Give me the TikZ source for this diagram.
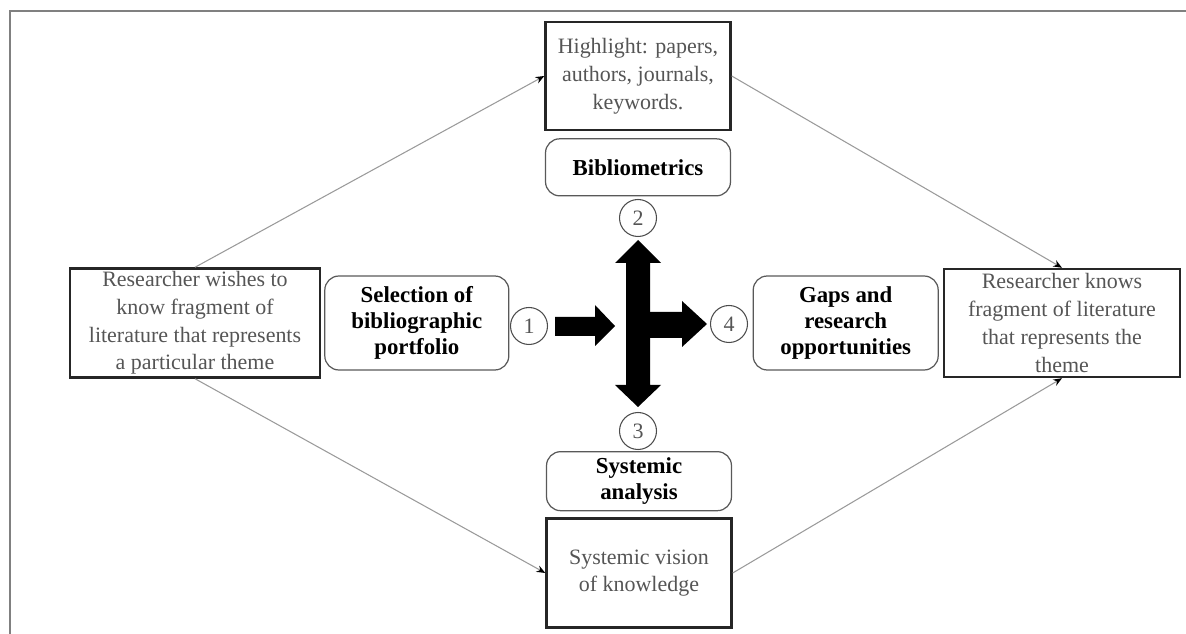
\documentclass[tikz,border=0pt]{standalone}
\usepackage{fontspec}
\setmainfont{Liberation Serif}
\usetikzlibrary{positioning,arrows.meta}
\definecolor{txtgray}{HTML}{555555}
\definecolor{linegray}{HTML}{9A9A9A}

\tikzset{
  plainbox/.style={draw=black!85, line width=1.4pt, align=center, text=txtgray,
    font=\fontsize{12.5}{15.8}\selectfont, inner sep=1pt},
  roundbox/.style={draw=black!65, line width=0.7pt, rounded corners=8pt, align=center,
    font=\fontsize{13}{14.8}\selectfont\bfseries, minimum width=3.7cm, inner sep=1pt},
  numcircle/.style={draw=black!70, line width=0.6pt, circle, minimum size=0.74cm,
    inner sep=0pt, text=txtgray, font=\fontsize{12.5}{14}\selectfont},
  link/.style={draw=linegray, line width=0.6pt, -{Stealth[length=5pt,width=4pt,black]}}
}

\begin{document}
\begin{tikzpicture}[x=0.02cm,y=-0.02cm]
  \useasboundingbox (0,0) rectangle (1186,634);
  \draw[gray, line width=1.2pt] (10,634) -- (10,11) -- (1186,11);

  \node[numcircle] (c1) at (529,326) {1};
  \node[numcircle] (c2) at (638,218) {2};
  \node[numcircle] (c3) at (638,431) {3};
  \node[numcircle] (c4) at (729,324) {4};

  \node[plainbox, minimum width=5cm, minimum height=2.18cm] (wish) at (195,323)
    {Researcher wishes to\\ know fragment of\\ literature that represents\\ a particular theme};
  \node[roundbox, right=0.06cm of wish, minimum width=3.68cm, minimum height=1.88cm] (sel)
    {Selection of\\ bibliographic\\ portfolio};

  \node[plainbox, minimum width=3.7cm, minimum height=2.16cm] (hl) at (638,76)
    {Highlight: papers,\\ authors, journals,\\ keywords.};
  \node[roundbox, below=0.14cm of hl, minimum height=1.14cm] (bib) {Bibliometrics};

  \node[plainbox, minimum width=4.72cm, minimum height=2.16cm] (know) at (1062,323)
    {Researcher knows\\ fragment of literature\\ that represents the\\ theme};
  \node[roundbox, left=0.08cm of know, minimum height=1.88cm] (gaps)
    {Gaps and\\ research\\ opportunities};

  \node[plainbox, minimum width=3.7cm, minimum height=2.18cm] (vis) at (639,573)
    {Systemic vision\\ of knowledge};
  \node[roundbox, above=0.12cm of vis, minimum height=1.18cm] (sys) {Systemic\\ analysis};

  \draw[link] (wish.north) -- (hl.west);
  \draw[link] (hl.east) -- (know.north);
  \draw[link] (wish.south) -- (vis.west);
  \draw[link] (vis.east) -- (know.south);

  \fill (555,317) -- (595,317) -- (595,305) -- (615,326) -- (595,346) -- (595,336) -- (555,336) -- cycle;
  \fill (638,240) -- (661,263) -- (650,263) -- (650,385) -- (661,385) -- (638,407)
    -- (615,385) -- (626,385) -- (626,263) -- (615,263) -- cycle;
  \fill (650,312) -- (682,312) -- (682,301) -- (707,324) -- (682,347) -- (682,338) -- (650,338) -- cycle;
\end{tikzpicture}
\end{document}
